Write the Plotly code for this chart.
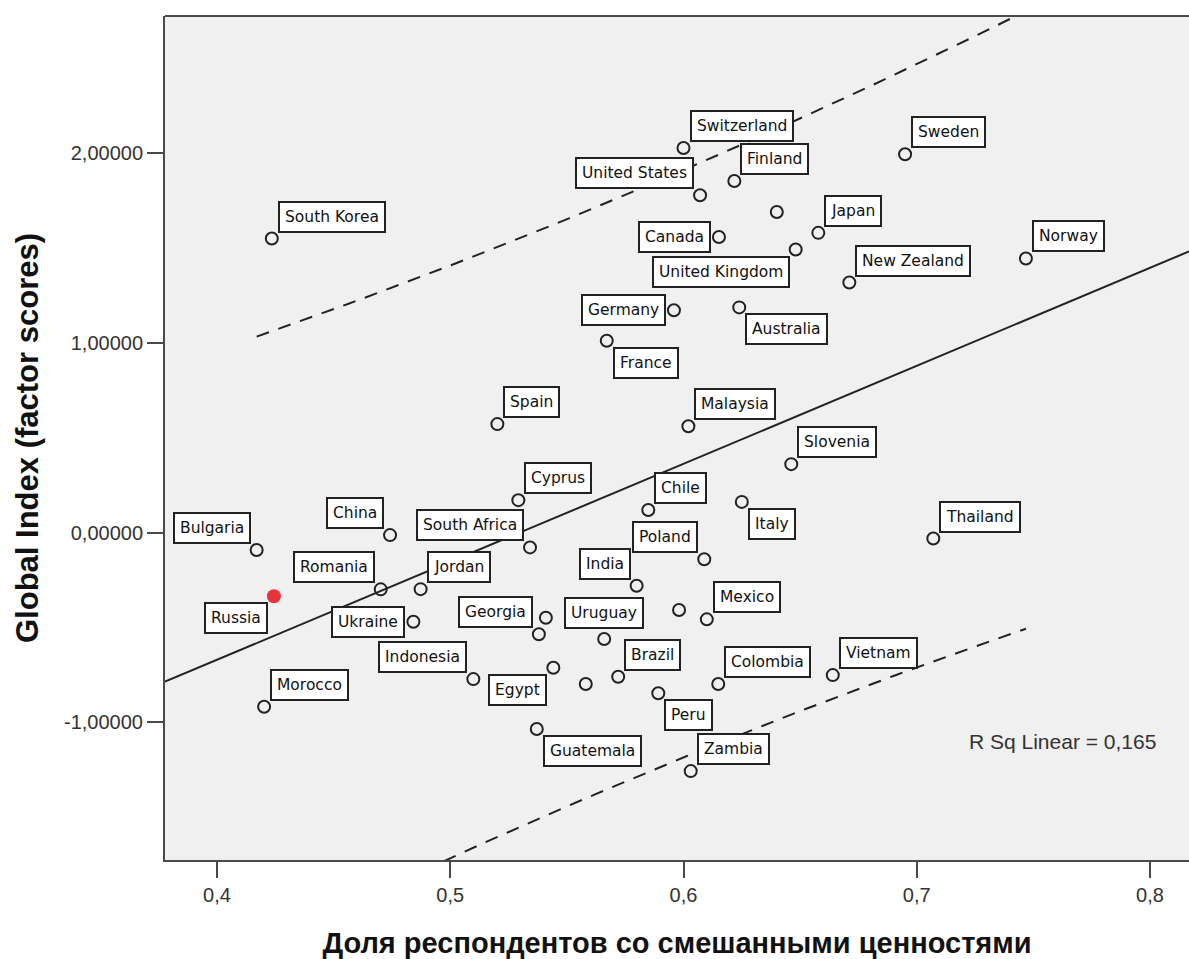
import numpy as np
import plotly.graph_objects as go

# Country-level data: share of respondents with mixed values vs. Global Index
countries = [
    "South Korea", "Switzerland", "United States", "Finland", "", "Canada",
    "United Kingdom", "Japan", "Germany", "Australia", "Sweden", "New Zealand",
    "Norway", "France", "Spain", "Malaysia", "Slovenia", "Cyprus", "Chile",
    "Italy", "Thailand", "Bulgaria", "China", "South Africa", "Poland", "India",
    "Romania", "Jordan", "Russia", "", "Mexico", "", "Ukraine", "Georgia",
    "Uruguay", "Egypt", "Vietnam", "Brazil", "Indonesia", "", "Colombia",
    "Peru", "Morocco", "Guatemala", "Zambia",
]
mixed_share = [
    0.4235, 0.6000, 0.6071, 0.6218, 0.6400, 0.6152,
    0.6481, 0.6578, 0.5959, 0.6239, 0.6950, 0.6711,
    0.7468, 0.5671, 0.5202, 0.6021, 0.6462, 0.5292, 0.5849,
    0.6250, 0.7071, 0.4170, 0.4742, 0.5342, 0.6089, 0.5799,
    0.4702, 0.4873, 0.4244, 0.5981, 0.6100, 0.5410, 0.4842, 0.5380,
    0.5660, 0.5442, 0.6640, 0.5720, 0.5099, 0.5581, 0.6149,
    0.5892, 0.4202, 0.5371, 0.6031,
]
global_index = [
    1.550, 2.027, 1.778, 1.853, 1.690, 1.558,
    1.492, 1.580, 1.172, 1.187, 1.994, 1.318,
    1.445, 1.011, 0.572, 0.561, 0.361, 0.171, 0.119,
    0.162, -0.031, -0.092, -0.013, -0.078, -0.140, -0.280,
    -0.299, -0.298, -0.335, -0.408, -0.457, -0.449, -0.470, -0.536,
    -0.561, -0.712, -0.751, -0.760, -0.772, -0.798, -0.798,
    -0.847, -0.918, -1.035, -1.257,
]
# where each label box sits relative to its point
label_side = [
    "ur", "ur", "ul", "ur", "", "l",
    "ll", "ur", "l", "lr", "ur", "ur",
    "ur", "lr", "ur", "ur", "ur", "ur", "ur",
    "lr", "ur", "ul", "ul", "ul", "ul", "ul",
    "ul", "ur", "ll", "", "ur", "", "l", "ul",
    "u", "ll", "ur", "ur", "ul", "", "ur",
    "lr", "ur", "lr", "ur",
]
highlight = "Russia"
r_squared_text = "R Sq Linear = 0,165"
T_CRIT = 1.681  # Student t, 90 % two-sided, df = n - 2

x_ticks = [0.4, 0.5, 0.6, 0.7, 0.8]
x_tick_text = ["0,4", "0,5", "0,6", "0,7", "0,8"]
y_ticks = [-1.0, 0.0, 1.0, 2.0]
y_tick_text = ["-1,00000", "0,00000", "1,00000", "2,00000"]

X_RANGE = [0.37771, 0.81672]
Y_RANGE = [-1.7255, 2.7229]

x = np.array(mixed_share)
y = np.array(global_index)
n = len(x)

# least-squares fit and prediction interval for individual values
slope, intercept = np.polyfit(x, y, 1)
resid = y - (intercept + slope * x)
s = np.sqrt(np.sum(resid ** 2) / (n - 2))
sxx = np.sum((x - x.mean()) ** 2)
xs = np.linspace(x.min(), x.max(), 60)
half = T_CRIT * s * np.sqrt(1 + 1 / n + (xs - x.mean()) ** 2 / sxx)
fit_xs = np.array(X_RANGE)

INK = "#222222"
FRAME = "#4a4a4a"

fig = go.Figure()

fig.add_trace(go.Scatter(
    x=fit_xs, y=intercept + slope * fit_xs, mode="lines",
    line=dict(color=INK, width=2), hoverinfo="skip",
))
for sign in (1, -1):
    fig.add_trace(go.Scatter(
        x=xs, y=intercept + slope * xs + sign * half, mode="lines",
        line=dict(color=INK, width=2, dash="13px,10px"), hoverinfo="skip",
    ))

normal = [i for i, c in enumerate(countries) if c != highlight]
special = [i for i, c in enumerate(countries) if c == highlight]

fig.add_trace(go.Scatter(
    x=x[normal], y=y[normal], mode="markers",
    marker=dict(symbol="circle-open", size=12, color=INK, line=dict(width=2, color=INK)),
    text=[countries[i] for i in normal], hoverinfo="text",
))
fig.add_trace(go.Scatter(
    x=x[special], y=y[special], mode="markers",
    marker=dict(symbol="circle", size=14, color="#e8333f", line=dict(width=0)),
    text=[countries[i] for i in special], hoverinfo="text",
))

GAP = 6
anchor_map = {
    "ur": ("left", "bottom", GAP, GAP),
    "ul": ("right", "bottom", -GAP, GAP),
    "lr": ("left", "top", GAP, -GAP),
    "ll": ("right", "top", -GAP, -GAP),
    "l": ("right", "middle", -8, 0),
    "u": ("center", "bottom", 0, 10),
}
annotations = []
for name, xv, yv, side in zip(countries, mixed_share, global_index, label_side):
    if not name:
        continue
    xa, ya, dx, dy = anchor_map[side]
    annotations.append(dict(
        x=xv, y=yv, xref="x", yref="y", text=name, showarrow=False,
        xanchor=xa, yanchor=ya, xshift=dx, yshift=dy,
        font=dict(family="DejaVu Sans", size=15.5, color="#111111"),
        bgcolor="white", bordercolor=INK, borderwidth=2, borderpad=5,
    ))

annotations.append(dict(
    x=0.8034, y=-1.10, xref="x", yref="y", text=r_squared_text, showarrow=False,
    xanchor="right", yanchor="middle",
    font=dict(family="Liberation Sans, Arial", size=21, color="#333333"),
))

fig.update_layout(
    width=1189, height=959,
    margin=dict(l=165, r=0, t=16, b=99),
    paper_bgcolor="white", plot_bgcolor="#f0f0f0",
    showlegend=False,
    annotations=annotations,
    font=dict(family="Liberation Sans, Arial", color="#333333"),
    shapes=[dict(type="line", xref="paper", yref="paper", x0=0, x1=1, y0=1, y1=1,
                 line=dict(color=FRAME, width=2))],
)
fig.update_xaxes(
    range=X_RANGE, tickvals=x_ticks, ticktext=x_tick_text,
    showgrid=False, zeroline=False, showline=True, linecolor=FRAME, linewidth=2,
    ticks="outside", ticklen=16, tickwidth=2, tickcolor=FRAME,
    tickfont=dict(size=20, color="#333333"),
    title=dict(text="<b>Доля респондентов со смешанными ценностями</b>",
               font=dict(size=29, color="#111111"), standoff=30),
)
fig.update_yaxes(
    range=Y_RANGE, tickvals=y_ticks, ticktext=y_tick_text,
    showgrid=False, zeroline=False, showline=True, linecolor=FRAME, linewidth=2,
    ticks="outside", ticklen=16, tickwidth=2, tickcolor=FRAME,
    tickfont=dict(size=20, color="#333333"),
    title=dict(text="<b>Global Index (factor scores)</b>",
               font=dict(size=31, color="#111111"), standoff=16),
)

fig.write_html("out.html")
